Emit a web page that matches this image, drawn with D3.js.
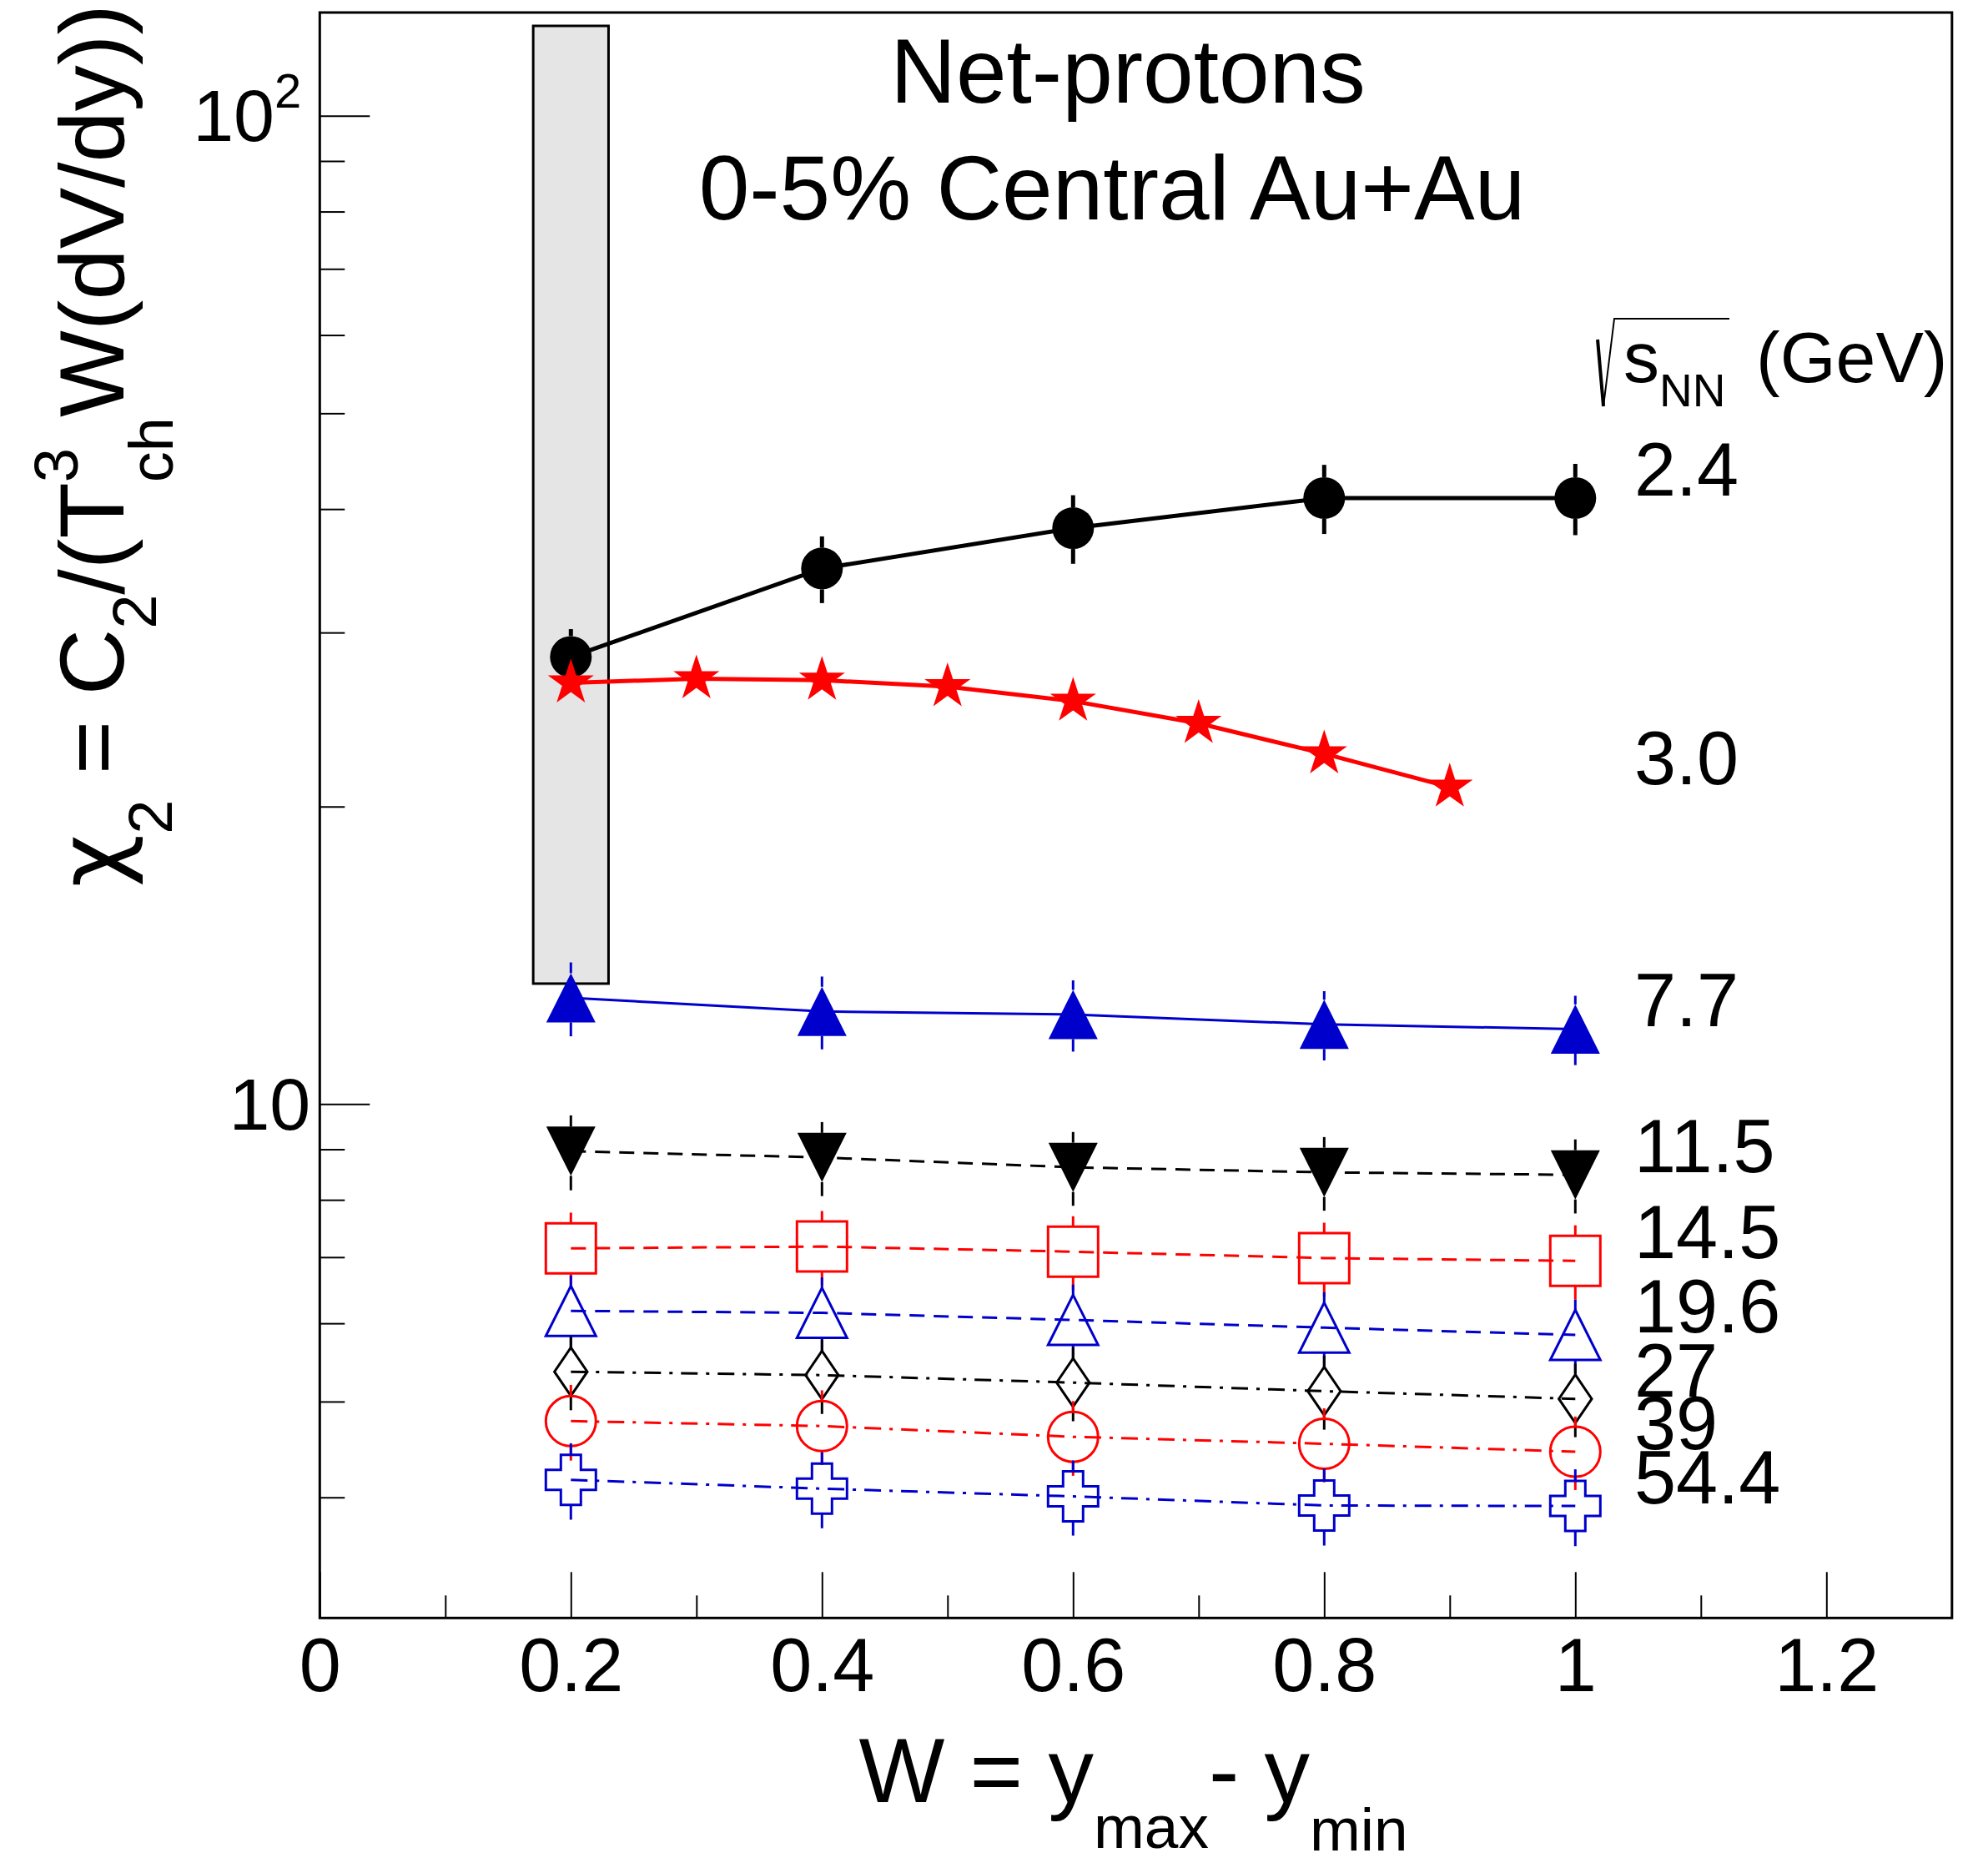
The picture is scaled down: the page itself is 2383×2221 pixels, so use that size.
<!DOCTYPE html>
<html>
<head>
<meta charset="utf-8">
<script src="https://cdn.jsdelivr.net/npm/d3@7"></script>
<style>
  body { margin: 0; background: #fff; }
  svg text { font-family: "Liberation Sans", Arial, Helvetica, sans-serif; fill: #000; }
</style>
</head>
<body>
<script>
// values (chi2 vs rapidity window W)
var wPts = [0.2, 0.4, 0.6, 0.8, 1.0];
var wPts30 = [0.2, 0.3, 0.4, 0.5, 0.6, 0.7, 0.8, 0.9];

var chi2_24 = [28.34, 34.83, 38.26, 41.04, 41.04];
var err_24 = [1.9, 2.7, 3.05, 3.3, 3.4];
var chi2_30 = [26.68, 26.94, 26.85, 26.45, 25.57, 24.28, 22.62, 20.93];
var chi2_77 = [12.81, 12.41, 12.32, 12.04, 11.91];
var err_77 = [1.1, 1.05, 1.02, 0.97, 0.96];
var chi2_115 = [8.96, 8.83, 8.63, 8.53, 8.48];
var err_115 = [0.78, 0.76, 0.74, 0.73, 0.73];
var chi2_145 = [7.145, 7.175, 7.09, 6.985, 6.94];
var err_145 = [0.62, 0.62, 0.61, 0.6, 0.6];
var chi2_196 = [6.176, 6.148, 6.047, 5.94, 5.84];
var err_196 = [0.53, 0.53, 0.52, 0.51, 0.5];
var chi2_27 = [5.36, 5.318, 5.226, 5.123, 5.032];
var err_27 = [0.46, 0.46, 0.45, 0.44, 0.43];
var chi2_39 = [4.778, 4.723, 4.606, 4.532, 4.449];
var err_39 = [0.42, 0.41, 0.4, 0.39, 0.38];
var chi2_544 = [4.167, 4.082, 4.009, 3.925, 3.92];
var err_544 = [0.37, 0.36, 0.35, 0.35, 0.35];

// grey band at W = 0.2
var boxW = [0.17, 0.23];
var boxChi2 = [13.24, 123.3];

var xTicks = [0, 0.2, 0.4, 0.6, 0.8, 1, 1.2];
var xMinor = [0.1, 0.3, 0.5, 0.7, 0.9, 1.1];
var yMajor = [10, 100];
var yMinor = [4, 5, 6, 7, 8, 9, 20, 30, 40, 50, 60, 70, 80, 90];

var series = [
  {e: "2.4", xs: wPts, ys: chi2_24, err: err_24},
  {e: "3.0", xs: wPts30, ys: chi2_30, err: null},
  {e: "7.7", xs: wPts, ys: chi2_77, err: err_77},
  {e: "11.5", xs: wPts, ys: chi2_115, err: err_115},
  {e: "14.5", xs: wPts, ys: chi2_145, err: err_145},
  {e: "19.6", xs: wPts, ys: chi2_196, err: err_196},
  {e: "27", xs: wPts, ys: chi2_27, err: err_27},
  {e: "39", xs: wPts, ys: chi2_39, err: err_39},
  {e: "54.4", xs: wPts, ys: chi2_544, err: err_544}
];

var RED = "#ff0000", BLUE = "#0000cc", BLK = "#000000";
var DASH = "18,11", DASHDOT = "20,10,4,10";
var style = {
  "2.4":  {c: BLK,  m: "circle",  s: 50, fill: true,  lw: 5, dash: null},
  "3.0":  {c: RED,  m: "star",    s: 58, fill: true,  lw: 5, dash: null},
  "7.7":  {c: BLUE, m: "triUp",   s: 59, fill: true,  lw: 3, dash: null},
  "11.5": {c: BLK,  m: "triDown", s: 59, fill: true,  lw: 3, dash: DASH},
  "14.5": {c: RED,  m: "square",  s: 60, fill: false, lw: 3, dash: DASH},
  "19.6": {c: BLUE, m: "triUp",   s: 60, fill: false, lw: 3, dash: DASH},
  "27":   {c: BLK,  m: "diamond", s: 58, fill: false, lw: 3, dash: DASHDOT},
  "39":   {c: RED,  m: "circle",  s: 60, fill: false, lw: 3, dash: DASHDOT},
  "54.4": {c: BLUE, m: "cross",   s: 60, fill: false, lw: 3, dash: DASHDOT}
};

var width = 2383, height = 2221;
var pL = 383.3, pR = 2339.8, pT = 15, pB = 1939.3;

var x = d3.scaleLinear().domain([0, 1.3]).range([pL, pR]);
var y = d3.scaleLog().domain([3.02, 127.2]).range([pB, pT]);

var svg = d3.select("body").append("svg")
    .attr("width", width)
    .attr("height", height)
    .style("background", "#fff");

// marker outlines centred on (0,0)
function markerPath(type, s) {
  var h = s / 2, pts;
  if (type === "circle")
    return "M" + (-h) + ",0A" + h + "," + h + " 0 1,0 " + h + ",0A" + h + "," + h + " 0 1,0 " + (-h) + ",0Z";
  if (type === "square") pts = [[-h, -h], [h, -h], [h, h], [-h, h]];
  if (type === "triUp") pts = [[0, -h], [h, h], [-h, h]];
  if (type === "triDown") pts = [[0, h], [h, -h], [-h, -h]];
  if (type === "diamond") { var w = 0.34 * s; pts = [[0, -h], [w, 0], [0, h], [-w, 0]]; }
  if (type === "cross") {
    var a = 0.2 * s;
    pts = [[-a, -h], [a, -h], [a, -a], [h, -a], [h, a], [a, a], [a, h], [-a, h], [-a, a], [-h, a], [-h, -a], [-a, -a]];
  }
  if (type === "star") {
    pts = d3.range(10).map(function(i) {
      var r = i % 2 ? h * 0.382 : h, ang = -Math.PI / 2 + i * Math.PI / 5;
      return [r * Math.cos(ang), r * Math.sin(ang)];
    });
  }
  return d3.line()(pts) + "Z";
}

// grey band
svg.append("rect")
    .attr("x", x(boxW[0]))
    .attr("y", y(boxChi2[1]))
    .attr("width", x(boxW[1]) - x(boxW[0]))
    .attr("height", y(boxChi2[0]) - y(boxChi2[1]))
    .attr("fill", "#e5e5e5")
    .attr("stroke", "#000")
    .attr("stroke-width", 3);

// axes (ticks inside the frame)
function styleAxis(g) {
  g.select(".domain").remove();
  g.selectAll(".tick line").attr("stroke", "#000").attr("stroke-width", 2);
  g.attr("font-family", null).attr("font-size", null);
}

svg.append("g")
    .attr("transform", "translate(0," + pB + ")")
    .call(d3.axisBottom(x).tickValues(xMinor).tickSize(-27).tickFormat(""))
    .call(styleAxis);

var gx = svg.append("g")
    .attr("transform", "translate(0," + pB + ")")
    .call(d3.axisBottom(x).tickValues(xTicks).tickSize(-55).tickPadding(24).tickFormat(d3.format("~g")))
    .call(styleAxis);
gx.selectAll("text").attr("font-size", 90).attr("fill", "#000");

svg.append("g")
    .attr("transform", "translate(" + pL + ",0)")
    .call(d3.axisLeft(y).tickValues(yMinor).tickSize(-30).tickFormat(""))
    .call(styleAxis);

var gy = svg.append("g")
    .attr("transform", "translate(" + pL + ",0)")
    .call(d3.axisLeft(y).tickValues(yMajor).tickSize(-60).tickPadding(11).tickFormat(d3.format("d")))
    .call(styleAxis);
gy.selectAll("text").attr("font-size", 88).attr("fill", "#000").attr("dy", "0.34em");
gy.selectAll("text").filter(function(d) { return d === 100; })
    .attr("x", -22)
    .text("10")
    .append("tspan").attr("font-size", 58).attr("dy", -40).text("2");

// frame
svg.append("rect")
    .attr("x", pL).attr("y", pT)
    .attr("width", pR - pL).attr("height", pB - pT)
    .attr("fill", "none").attr("stroke", "#000").attr("stroke-width", 3);

var line = d3.line();

series.forEach(function(sr) {
  var st = style[sr.e];
  var pts = sr.xs.map(function(v, i) { return [x(v), y(sr.ys[i])]; });
  var g = svg.append("g");

  g.append("path")
      .attr("d", line(pts))
      .attr("fill", "none")
      .attr("stroke", st.c)
      .attr("stroke-width", st.lw)
      .attr("stroke-dasharray", st.dash);

  if (sr.err) {
    var half = st.s / 2;
    sr.xs.forEach(function(v, i) {
      var cx = x(v), cy = y(sr.ys[i]);
      var yt = y(sr.ys[i] + sr.err[i]), yb = y(sr.ys[i] - sr.err[i]);
      [[yt, cy - half], [cy + half, yb]].forEach(function(seg) {
        if (seg[1] - seg[0] > 0)
          g.append("line")
              .attr("x1", cx).attr("x2", cx)
              .attr("y1", seg[0]).attr("y2", seg[1])
              .attr("stroke", st.c)
              .attr("stroke-width", st.lw)
              .attr("stroke-dasharray", st.dash);
      });
    });
  }

  g.selectAll(".mk")
      .data(pts)
    .enter().append("path")
      .attr("class", "mk")
      .attr("transform", function(d) { return "translate(" + d[0] + "," + d[1] + ")"; })
      .attr("d", markerPath(st.m, st.s))
      .attr("fill", st.fill ? st.c : "none")
      .attr("stroke", st.fill ? "none" : st.c)
      .attr("stroke-width", 3);

  // energy label at the level of the last point
  svg.append("text")
      .attr("x", x(1.047))
      .attr("y", y(sr.ys[sr.ys.length - 1]) - 3)
      .attr("font-size", 90)
      .text(sr.e);
});

// legend header: sqrt(s_NN) (GeV)
var sx = x(1.047) - 13, sy = 458;
var hdr = svg.append("text").attr("x", sx).attr("y", sy).attr("font-size", 86);
hdr.append("tspan").text("s");
hdr.append("tspan").attr("font-size", 55).attr("dy", 29).text("NN");
svg.append("text").attr("x", sx + 159).attr("y", sy).attr("font-size", 86).text("(GeV)");
svg.append("path")
    .attr("d", "M" + (sx - 31) + "," + (sy - 51) + "L" + (sx - 24) + "," + (sy + 29) +
               "L" + (sx - 11) + "," + (sy - 76) + "L" + (sx + 127) + "," + (sy - 76))
    .attr("fill", "none").attr("stroke", "#000").attr("stroke-width", 2);
svg.append("path")
    .attr("d", "M" + (sx - 31) + "," + (sy - 51) + "L" + (sx - 24) + "," + (sy + 29))
    .attr("stroke", "#000").attr("stroke-width", 4);

// titles
svg.append("text").attr("x", 1352).attr("y", 123).attr("text-anchor", "middle")
    .attr("font-size", 109).text("Net-protons");
svg.append("text").attr("x", 1333).attr("y", 263).attr("text-anchor", "middle")
    .attr("font-size", 109).text("0-5% Central Au+Au");

// x title
var xt = svg.append("text").attr("x", x(0.65) - 3).attr("y", 2160)
    .attr("text-anchor", "middle").attr("font-size", 109);
xt.append("tspan").text("W = y");
xt.append("tspan").attr("font-size", 73).attr("dy", 55).text("max");
xt.append("tspan").attr("dy", -55).text("- y");
xt.append("tspan").attr("font-size", 73).attr("dy", 58).text("min");

// y title
var yt = svg.append("text").attr("transform", "translate(148,5) rotate(-90)")
    .attr("text-anchor", "end").attr("font-size", 110);
yt.append("tspan").style("font-family", "'DejaVu Sans', sans-serif").text("\u03c7");
yt.append("tspan").attr("font-size", 74).attr("dy", 58).text("2");
yt.append("tspan").attr("dy", -58).text(" = C");
yt.append("tspan").attr("font-size", 74).attr("dy", 39).text("2");
yt.append("tspan").attr("dy", -39).text("/(T");
yt.append("tspan").attr("font-size", 74).attr("dy", -55).text("3");
yt.append("tspan").attr("font-size", 74).attr("dx", -41).attr("dy", 114).text("ch");
yt.append("tspan").attr("dy", -59).text("W(dV/dy))");
</script>
</body>
</html>
